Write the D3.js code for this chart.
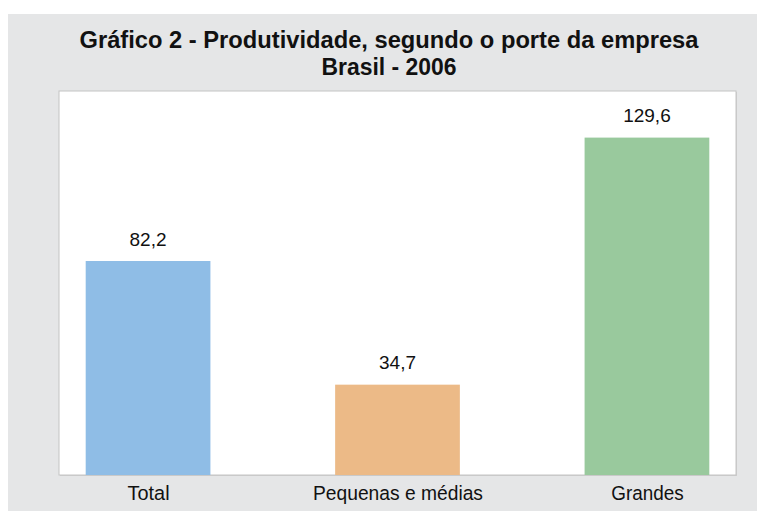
<!DOCTYPE html>
<html>
<head>
<meta charset="utf-8">
<script src="https://cdn.jsdelivr.net/npm/d3@7"></script>
<style>
html,body{margin:0;padding:0;background:#fff;}
svg{display:block;}
</style>
</head>
<body>
<svg id="chart" width="757" height="511"></svg>
<script>
const titleLines = ["Gráfico 2 - Produtividade, segundo o porte da empresa", "Brasil - 2006"];
const categories = ["Total", "Pequenas e médias", "Grandes"];
const values = [82.2, 34.7, 129.6];
const valueLabels = ["82,2", "34,7", "129,6"];
const colors = ["#8fbde6", "#ecba87", "#99c99d"];

const svg = d3.select("#chart");
const W = 757, H = 511;

// gray background panel
svg.append("rect").attr("x", 8).attr("y", 14).attr("width", W - 8).attr("height", H - 14).attr("fill", "#e5e6e7");

// plot area
const plot = {left: 59, right: 736, top: 91, bottom: 475};
svg.append("rect")
  .attr("x", plot.left + 1).attr("y", plot.top + 1)
  .attr("width", plot.right - plot.left).attr("height", plot.bottom - plot.top)
  .attr("fill", "#cfcfcf");
svg.append("rect")
  .attr("x", plot.left).attr("y", plot.top)
  .attr("width", plot.right - plot.left).attr("height", plot.bottom - plot.top)
  .attr("fill", "#fff").attr("stroke", "#c4c4c4").attr("stroke-width", 1);

const x = d3.scalePoint().domain(categories).range([plot.left, plot.right]).padding(0.357);
const barW = x.step() * 0.5;
const y = d3.scaleLinear().domain([0, 147.5]).range([plot.bottom, plot.top]);

// title (condensed look via textLength)
const titleWidths = [619, 135];
const title = svg.append("text").attr("text-anchor", "middle")
  .attr("font-family", "'Liberation Sans', Arial, sans-serif")
  .attr("font-weight", "bold").attr("font-size", 23).attr("fill", "#111");
titleLines.forEach((t, i) => {
  title.append("tspan").attr("x", 389).attr("y", 47.5 + i * 27)
    .attr("textLength", titleWidths[i]).attr("lengthAdjust", "spacingAndGlyphs")
    .text(t);
});

// bars
svg.selectAll("rect.bar").data(categories).join("rect")
  .attr("class", "bar")
  .attr("x", d => x(d) - barW / 2)
  .attr("width", barW)
  .attr("y", (d, i) => y(values[i]))
  .attr("height", (d, i) => y(0) - y(values[i]))
  .attr("fill", (d, i) => colors[i]);

// value labels
svg.selectAll("text.val").data(categories).join("text")
  .attr("class", "val")
  .attr("x", d => x(d))
  .attr("y", (d, i) => y(values[i]) - 15.5)
  .attr("text-anchor", "middle")
  .attr("font-family", "'Liberation Sans', Arial, sans-serif")
  .attr("font-size", 19).attr("fill", "#111")
  .text((d, i) => valueLabels[i]);

// category axis
const catWidths = [42, 170, 72.5];
const xAxis = d3.axisBottom(x).tickSize(0).tickPadding(0);
const ax = svg.append("g").attr("transform", `translate(0,${plot.bottom})`).call(xAxis);
ax.select(".domain").remove();
ax.selectAll("text")
  .attr("dy", 0).attr("y", 25)
  .attr("font-family", "'Liberation Sans', Arial, sans-serif")
  .attr("font-size", 20.5).attr("fill", "#111")
  .attr("textLength", (d, i) => catWidths[i]).attr("lengthAdjust", "spacingAndGlyphs");
</script>
</body>
</html>
